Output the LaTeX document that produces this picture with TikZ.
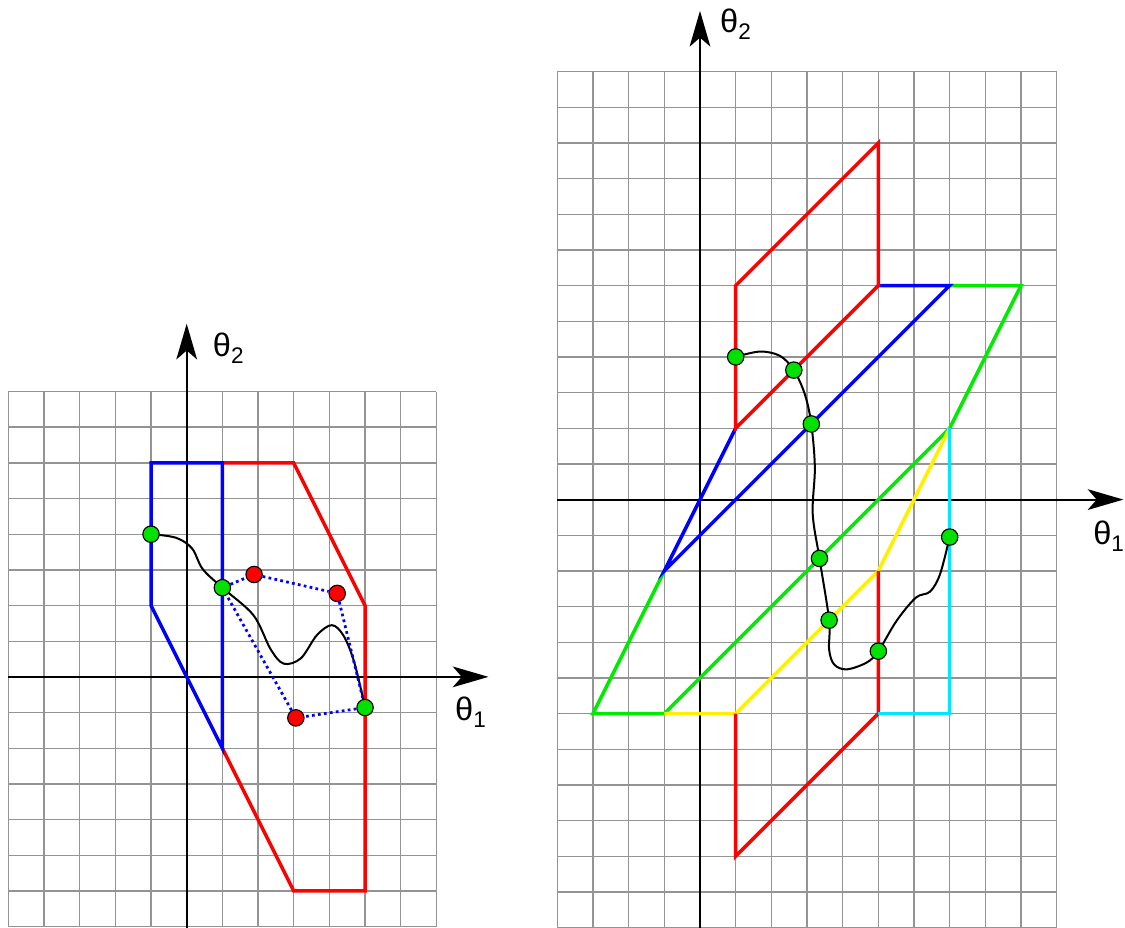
\documentclass[tikz,border=0pt]{standalone}
\usepackage{fontspec}
\setmainfont{Liberation Sans}
\usetikzlibrary{arrows.meta}
\definecolor{lgreen}{RGB}{0,235,0}
\definecolor{dotgreen}{RGB}{0,225,0}
\definecolor{lyellow}{RGB}{255,240,0}
\definecolor{lcyan}{RGB}{0,230,255}
\tikzset{
  gridline/.style={draw=black!42, line width=1.1pt},
  axisline/.style={draw=black, line width=1.6pt, -{Stealth[length=1.0cm,width=0.58cm,inset=0.25cm]}},
  seg/.style={line width=2.8pt, line join=miter, line cap=butt},
  pt/.style={circle, draw=black, line width=0.9pt, minimum size=0.46cm, inner sep=0pt},
  gpt/.style={pt, fill=dotgreen},
  rpt/.style={pt, fill=red},
  traj/.style={draw=black, line width=1.6pt},
  dotline/.style={draw=blue, line width=2.2pt, dash pattern=on 2.2pt off 2.6pt},
  lbl/.style={font=\fontsize{26}{30}\selectfont, inner sep=0pt, anchor=base west}
}
\newcommand{\thlab}[1]{θ\raisebox{-5.5pt}{\fontsize{18}{18}\selectfont #1}}
\begin{document}
\begin{tikzpicture}
\useasboundingbox (-5.234,-7.04) rectangle (26.305,18.976);
% ---------------- left picture ----------------
\draw[gridline] (-5,-7) grid (7,8);
\coordinate (LxS) at (-5,0);
\coordinate (LxE) at (8.46,0);
\coordinate (LyS) at (0,-7.04);
\coordinate (LyE) at (0,9.9);
\draw[axisline] (LxS) -- (LxE);
\draw[axisline] (LyS) -- (LyE);
\node[lbl] (Lt2) at (0.73,8.98) {\thlab{2}};
\node[lbl] (Lt1) at (7.52,-1.22) {\thlab{1}};
\draw[seg, red] (1,6) -- (3,6) -- (5,2) -- (5,-6) -- (3,-6) -- (1,-2);
\draw[seg, blue] (-1,2) -- (-1,6) -- (1,6) -- (1,-2) -- cycle;
\coordinate (g1c) at (-1,4);
\coordinate (g2c) at (1,2.5);
\coordinate (g3c) at (5,-0.86);
\draw[traj] plot[smooth, tension=0.55] coordinates {(g1c) (-0.3,3.9) (0.15,3.6) (0.45,3.02) (g2c) (1.87,1.73) (2.35,0.78) (2.72,0.37) (3.2,0.52) (3.65,1.17) (4.07,1.45) (4.4,1.15) (4.7,0.4) (g3c)};
\node[gpt] (g1) at (g1c) {};
\node[gpt] (g2) at (g2c) {};
\node[gpt] (g3) at (g3c) {};
\node[rpt] (r1) at (1.89,2.87) {};
\node[rpt] (r2) at (4.22,2.34) {};
\node[rpt] (r3) at (3.06,-1.15) {};
\draw[dotline] (g2) -- (r1) -- (r2) -- (g3) -- (r3) -- (g2);
% ---------------- right picture ----------------
\begin{scope}[shift={(14.39,4.97)}]
\draw[gridline] (-4,-12) grid (10,12);
\coordinate (RxS) at (-4,0);
\coordinate (RxE) at (11.87,0);
\coordinate (RyS) at (0,-12.05);
\coordinate (RyE) at (0,13.7);
\draw[axisline] (RxS) -- (RxE);
\draw[axisline] (RyS) -- (RyE);
\node[lbl] (Rt2) at (0.56,13.09) {\thlab{2}};
\node[lbl] (Rt1) at (11.02,-1.26) {\thlab{1}};
\draw[seg, lgreen] (7,6) -- (9,6) -- (7,2) -- (-1,-6) -- (-3,-6) -- (-1,-2);
\draw[seg, blue] (5,6) -- (7,6) -- (-1,-2) -- (1,2);
\draw[seg, red] (1,2) -- (1,6) -- (5,10) -- (5,6) -- cycle;
\draw[seg, lyellow] (-1,-6) -- (1,-6) -- (5,-2) -- (7,2);
\draw[seg, red] (5,-2) -- (5,-6) -- (1,-10) -- (1,-6);
\draw[seg, lcyan] (7,2) -- (7,-6) -- (5,-6);
\coordinate (h1c) at (1,4);
\coordinate (h2c) at (2.63,3.63);
\coordinate (h3c) at (3.12,2.12);
\coordinate (h4c) at (3.35,-1.65);
\coordinate (h5c) at (3.62,-3.38);
\coordinate (h6c) at (5,-4.25);
\coordinate (h7c) at (7,-1.05);
\draw[traj] plot[smooth, tension=0.55] coordinates {(h1c) (1.68,4.15) (2.24,4.03) (h2c) (2.94,2.95) (h3c) (3.22,0.9) (3.16,-0.4) (h4c) (h5c) (3.62,-4.2) (3.76,-4.62) (4.11,-4.76) (4.67,-4.57) (h6c) (5.51,-3.4) (6.05,-2.75) (6.45,-2.58) (6.73,-2.09) (h7c)};
\node[gpt] (h1) at (h1c) {};
\node[gpt] (h2) at (h2c) {};
\node[gpt] (h3) at (h3c) {};
\node[gpt] (h4) at (h4c) {};
\node[gpt] (h5) at (h5c) {};
\node[gpt] (h6) at (h6c) {};
\node[gpt] (h7) at (h7c) {};
\end{scope}
\end{tikzpicture}
\end{document}
